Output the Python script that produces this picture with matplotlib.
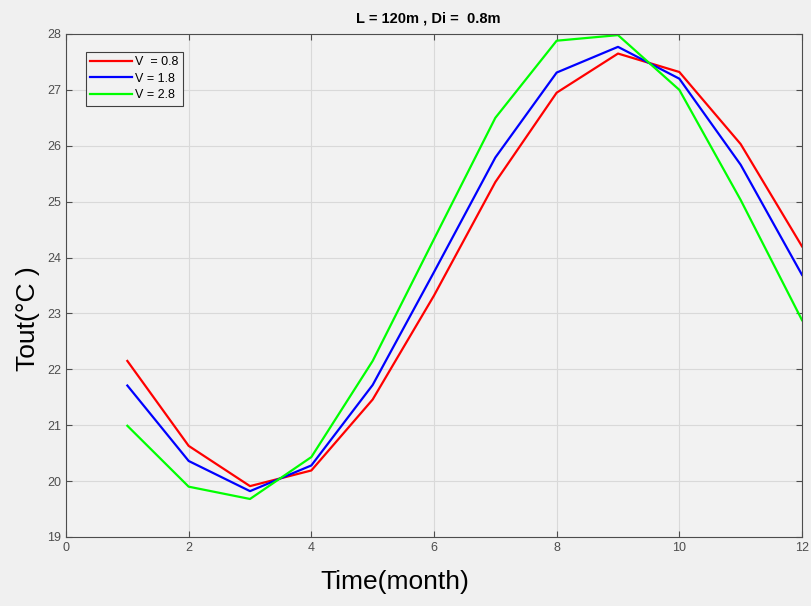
import matplotlib
matplotlib.use('Agg')
import matplotlib.pyplot as plt
from matplotlib import font_manager

# Monthly outlet temperature for three air velocities
months = [1, 2, 3, 4, 5, 6, 7, 8, 9, 10, 11, 12]
tout_v08 = [22.15, 20.63, 19.91, 20.19, 21.46, 23.32, 25.35, 26.95, 27.65, 27.32, 26.03, 24.2]
tout_v18 = [21.71, 20.36, 19.82, 20.28, 21.72, 23.74, 25.79, 27.31, 27.77, 27.2, 25.66, 23.69]
tout_v28 = [20.99, 19.9, 19.68, 20.43, 22.15, 24.33, 26.5, 27.88, 27.98, 27.0, 25.03, 22.88]
labels = ['V  = 0.8', 'V = 1.8', 'V = 2.8']
colors = ['#ff0000', '#0000ff', '#00ff00']

plt.rcParams['font.family'] = ['Liberation Sans', 'DejaVu Sans']

# narrow face for the axis labels, if there is one
names = {f.name for f in font_manager.fontManager.ttflist}
label_font = 'Liberation Sans Narrow' if 'Liberation Sans Narrow' in names else 'Liberation Sans'

fig = plt.figure(figsize=(8.11, 6.06), dpi=100, facecolor='#f0f0f0')
ax = fig.add_axes([0.0814, 0.1139, 0.9075, 0.83])
ax.set_facecolor('#f2f2f2')

for y, lab, c in zip([tout_v08, tout_v18, tout_v28], labels, colors):
    ax.plot(months, y, color=c, linewidth=1.6, label=lab)

ax.set_xlim(0, 12)
ax.set_ylim(19, 28)
ax.set_xticks(range(0, 13, 2))
ax.set_yticks(range(19, 29))
ax.grid(True, color='#d9d9d9', linewidth=0.8)
ax.tick_params(direction='in', top=True, right=True, labelsize=9,
               labelcolor='#4d4d4d', color='#4d4d4d', length=4)
for s in ax.spines.values():
    s.set_color('#4d4d4d')
    s.set_linewidth(0.8)

ax.set_title('L = 120m , Di =  0.8m', fontsize=10.5, fontweight='bold', pad=8, x=0.4925)
ax.set_xlabel('Time(month)', fontsize=19, family=label_font)
ax.set_ylabel('Tout(°C )', fontsize=19, family=label_font)
ax.xaxis.set_label_coords(0.447, -0.066)
ax.yaxis.set_label_coords(-0.036, 0.435)

leg = ax.legend(loc='upper left', bbox_to_anchor=(0.027, 0.964), fontsize=9,
                fancybox=False, framealpha=1, edgecolor='#404040',
                facecolor='#f2f2f2', handlelength=3.3, borderpad=0.35,
                labelspacing=0.35, handletextpad=0.3, borderaxespad=0)
leg.get_frame().set_linewidth(0.8)

fig.savefig('out.png', dpi=100, facecolor=fig.get_facecolor())
